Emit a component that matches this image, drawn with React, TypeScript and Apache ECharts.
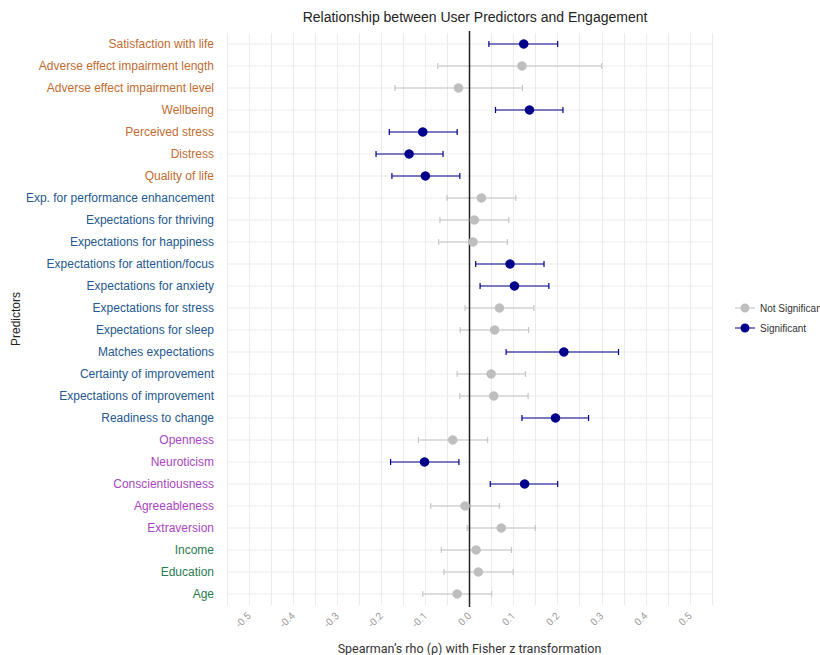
import React, { useEffect, useRef } from "react";
import * as echarts from "echarts";

const categories = [
  "Satisfaction with life",
  "Adverse effect impairment length",
  "Adverse effect impairment level",
  "Wellbeing",
  "Perceived stress",
  "Distress",
  "Quality of life",
  "Exp. for performance enhancement",
  "Expectations for thriving",
  "Expectations for happiness",
  "Expectations for attention/focus",
  "Expectations for anxiety",
  "Expectations for stress",
  "Expectations for sleep",
  "Matches expectations",
  "Certainty of improvement",
  "Expectations of improvement",
  "Readiness to change",
  "Openness",
  "Neuroticism",
  "Conscientiousness",
  "Agreeableness",
  "Extraversion",
  "Income",
  "Education",
  "Age",
];

const groups = [
  "o", "o", "o", "o", "o", "o", "o",
  "b", "b", "b", "b", "b", "b", "b", "b", "b", "b", "b",
  "p", "p", "p", "p", "p",
  "g", "g", "g",
];

const estimates = [
  0.123, 0.119, -0.025, 0.136, -0.106, -0.137, -0.1,
  0.027, 0.011, 0.008, 0.092, 0.102, 0.068, 0.057, 0.214, 0.049, 0.055, 0.195,
  -0.038, -0.102, 0.125, -0.01, 0.072,
  0.015, 0.02, -0.028,
];

const lower = [
  0.044, -0.072, -0.169, 0.059, -0.182, -0.212, -0.176,
  -0.051, -0.067, -0.07, 0.014, 0.024, -0.01, -0.021, 0.083, -0.028, -0.022, 0.119,
  -0.116, -0.179, 0.047, -0.088, -0.005,
  -0.064, -0.058, -0.106,
];

const upper = [
  0.2, 0.3, 0.12, 0.212, -0.028, -0.06, -0.022,
  0.105, 0.089, 0.086, 0.169, 0.18, 0.146, 0.134, 0.338, 0.127, 0.133, 0.27,
  0.041, -0.024, 0.2, 0.068, 0.149,
  0.095, 0.099, 0.05,
];

const significant = [
  1, 0, 0, 1, 1, 1, 1,
  0, 0, 0, 1, 1, 0, 0, 1, 0, 0, 1,
  0, 1, 1, 0, 0,
  0, 0, 0,
];

const legendNames = ["Not Significant", "Significant"];

const NAVY = "#00008b";
const GREY = "#bebebe";
const GREY_BAR = "#c6c6c6";

const labelFont = "'Liberation Sans', Arial, Helvetica, sans-serif";

export default function App() {
  const ref = useRef<HTMLDivElement>(null);

  useEffect(() => {
    if (!ref.current) return;
    const chart = echarts.init(ref.current, null, { renderer: "svg" });

    const nsPoints: any[] = [];
    const sPoints: any[] = [];
    const nsBars: any[] = [];
    const sBars: any[] = [];
    categories.forEach((c, i) => {
      if (significant[i]) {
        sPoints.push([estimates[i], i]);
        sBars.push([lower[i], upper[i], i]);
      } else {
        nsPoints.push([estimates[i], i]);
        nsBars.push([lower[i], upper[i], i]);
      }
    });

    const barRender = (color: string) => (params: any, api: any) => {
      const a = api.coord([api.value(0), api.value(2)]);
      const b = api.coord([api.value(1), api.value(2)]);
      const cap = 3;
      const style = { stroke: color, lineWidth: 1.2, fill: "none" };
      return {
        type: "group",
        children: [
          { type: "line", shape: { x1: a[0], y1: a[1], x2: b[0], y2: b[1] }, style },
          { type: "line", shape: { x1: a[0], y1: a[1] - cap, x2: a[0], y2: a[1] + cap }, style },
          { type: "line", shape: { x1: b[0], y1: b[1] - cap, x2: b[0], y2: b[1] + cap }, style },
        ],
      };
    };

    const richStyles = {
      o: { color: "#c06c30", fontSize: 12, fontFamily: labelFont },
      b: { color: "#24588f", fontSize: 12, fontFamily: labelFont },
      p: { color: "#a845c2", fontSize: 12, fontFamily: labelFont },
      g: { color: "#2a7a50", fontSize: 12, fontFamily: labelFont },
    };

    const legendIcon =
      "path://M0,4.4h20v1.2H0z M10,0.5a4.5,4.5 0 1,1 0,9a4.5,4.5 0 1,1 0,-9z";

    chart.setOption({
      animation: false,
      backgroundColor: "#ffffff",
      title: {
        text: "Relationship between User Predictors and Engagement",
        left: 470,
        textAlign: "center",
        top: 5,
        textStyle: {
          fontFamily: labelFont,
          fontSize: 14,
          fontWeight: "normal",
          color: "#222222",
        },
      },
      legend: {
        data: legendNames.map((n) => ({ name: n, icon: legendIcon })),
        orient: "vertical",
        left: 730,
        top: 298,
        itemWidth: 20,
        itemHeight: 10,
        itemGap: 10,
        textStyle: { fontFamily: labelFont, fontSize: 10, color: "#333333" },
      },
      grid: {
        left: 227,
        right: 108,
        top: 33,
        bottom: 50,
        containLabel: false,
        outerBoundsMode: "none",
      },
      xAxis: {
        type: "value",
        min: -0.55,
        max: 0.55,
        interval: 0.05,
        axisLine: { show: false },
        axisTick: { show: false },
        splitLine: { show: true, lineStyle: { color: "#ebebeb", width: 1 } },
        axisLabel: {
          rotate: 45,
          margin: 9,
          color: "#9a9a9a",
          fontSize: 10,
          fontFamily: "Roboto, sans-serif",
          formatter: (v: number) => {
            const k = Math.round(v * 20);
            if (k % 2 !== 0) return "";
            return (k / 20).toFixed(1);
          },
        },
        name: "Spearman\u2019s rho (\u03c1) with Fisher z transformation",
        nameLocation: "middle",
        nameGap: 37,
        nameMoveOverlap: false,
        nameTextStyle: { fontFamily: "Roboto, sans-serif", fontSize: 12.5, color: "#333333" },
      },
      yAxis: {
        type: "category",
        data: categories,
        inverse: true,
        axisLine: { show: false },
        axisTick: { show: false },
        splitLine: { show: false },
        axisLabel: {
          margin: 13,
          formatter: (value: string, idx: number) => `{${groups[idx]}|${value}}`,
          rich: richStyles,
        },
        name: "Predictors",
        nameLocation: "middle",
        nameRotate: 90,
        nameGap: 205,
        nameMoveOverlap: false,
        nameTextStyle: { fontFamily: labelFont, fontSize: 12, color: "#222222" },
      },
      series: [
        {
          name: "gridRows",
          type: "custom",
          silent: true,
          z: 1,
          data: categories.map((c, i) => [0, i]),
          encode: { x: 0, y: 1 },
          renderItem: (params: any, api: any) => {
            const p = api.coord([0, api.value(1)]);
            const cs = params.coordSys;
            return {
              type: "line",
              shape: { x1: cs.x, y1: p[1], x2: cs.x + cs.width, y2: p[1] },
              style: { stroke: "#ebebeb", lineWidth: 1 },
            };
          },
        },
        {
          name: "ciNS",
          type: "custom",
          silent: true,
          z: 2,
          data: nsBars,
          encode: { x: [0, 1], y: 2 },
          renderItem: barRender(GREY_BAR),
        },
        {
          name: "ciS",
          type: "custom",
          silent: true,
          z: 2,
          data: sBars,
          encode: { x: [0, 1], y: 2 },
          renderItem: barRender(NAVY),
        },
        {
          name: "zeroLine",
          type: "custom",
          silent: true,
          z: 3,
          data: [[0, 0]],
          encode: { x: 0, y: 1 },
          renderItem: (params: any, api: any) => {
            const p = api.coord([api.value(0), 0]);
            const cs = params.coordSys;
            return {
              type: "line",
              shape: { x1: p[0], y1: cs.y - 2, x2: p[0], y2: cs.y + cs.height + 2 },
              style: { stroke: "#222222", lineWidth: 1.5 },
            };
          },
        },
        {
          name: legendNames[0],
          type: "scatter",
          z: 4,
          symbol: "circle",
          symbolSize: 9.5,
          itemStyle: { color: GREY, opacity: 1 },
          data: nsPoints,
        },
        {
          name: legendNames[1],
          type: "scatter",
          z: 4,
          symbol: "circle",
          symbolSize: 9.5,
          itemStyle: { color: NAVY, opacity: 1 },
          data: sPoints,
        },
      ],
    });

    return () => chart.dispose();
  }, []);

  return (
    <div
      ref={ref}
      style={{ position: "fixed", left: 0, top: 0, width: 820, height: 655 }}
    />
  );
}
